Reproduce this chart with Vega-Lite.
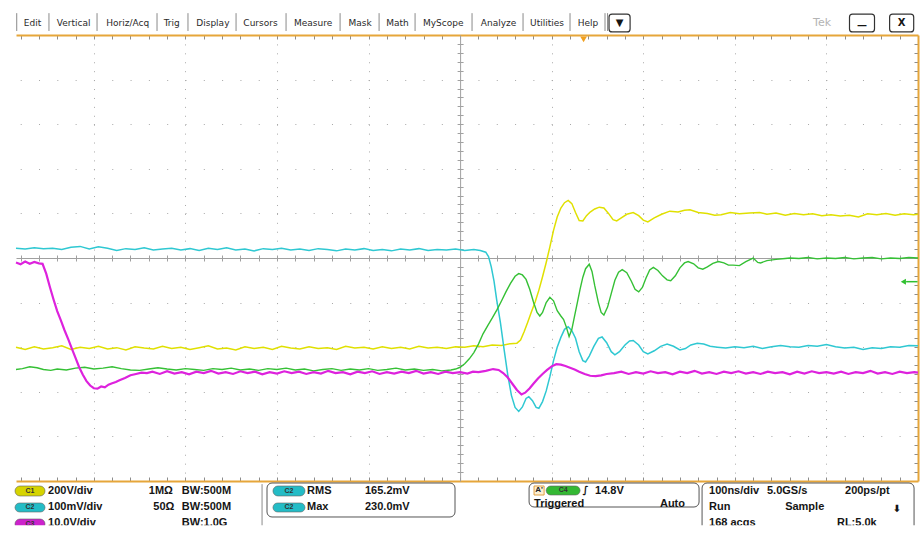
{
"$schema": "https://vega.github.io/schema/vega-lite/v6.json",
"width": 902, "height": 446,
"autosize": {"type": "none"},
"padding": {"left": 16, "top": 35, "right": 6, "bottom": 58},
"background": "white",
"config": {"view": {"stroke": null}},
"datasets": {
"c1": [{"t":-485,"v":-2.00},{"t":-475,"v":-2.05},{"t":-465,"v":-1.99},{"t":-455,"v":-2.04},{"t":-445,"v":-2.01},{"t":-435,"v":-1.97},{"t":-425,"v":-2.05},{"t":-415,"v":-2.00},{"t":-405,"v":-2.03},{"t":-395,"v":-1.98},{"t":-385,"v":-2.04},{"t":-375,"v":-2.01},{"t":-365,"v":-2.06},{"t":-355,"v":-1.99},{"t":-345,"v":-2.02},{"t":-335,"v":-2.04},{"t":-325,"v":-1.98},{"t":-315,"v":-2.03},{"t":-305,"v":-2.00},{"t":-295,"v":-2.05},{"t":-285,"v":-2.01},{"t":-275,"v":-1.97},{"t":-265,"v":-2.04},{"t":-255,"v":-2.02},{"t":-245,"v":-2.06},{"t":-235,"v":-1.99},{"t":-225,"v":-2.03},{"t":-215,"v":-2.00},{"t":-205,"v":-2.05},{"t":-195,"v":-1.98},{"t":-185,"v":-2.02},{"t":-175,"v":-2.04},{"t":-165,"v":-1.99},{"t":-155,"v":-2.03},{"t":-145,"v":-2.01},{"t":-135,"v":-2.05},{"t":-125,"v":-1.98},{"t":-115,"v":-2.02},{"t":-105,"v":-2.00},{"t":-95,"v":-2.04},{"t":-85,"v":-1.99},{"t":-75,"v":-2.03},{"t":-65,"v":-2.00},{"t":-55,"v":-2.04},{"t":-45,"v":-1.98},{"t":-35,"v":-2.02},{"t":-25,"v":-2.00},{"t":-15,"v":-2.03},{"t":-5,"v":-1.99},{"t":5,"v":-2.00},{"t":15,"v":-1.97},{"t":25,"v":-1.99},{"t":35,"v":-1.95},{"t":45,"v":-1.96},{"t":55,"v":-1.92},{"t":62,"v":-1.91},{"t":66,"v":-1.84},{"t":70,"v":-1.65},{"t":74,"v":-1.43},{"t":78,"v":-1.20},{"t":82,"v":-0.98},{"t":86,"v":-0.72},{"t":90,"v":-0.42},{"t":94,"v":-0.10},{"t":98,"v":0.25},{"t":102,"v":0.62},{"t":106,"v":0.92},{"t":110,"v":1.12},{"t":114,"v":1.24},{"t":118,"v":1.29},{"t":122,"v":1.22},{"t":126,"v":1.02},{"t":130,"v":0.84},{"t":134,"v":0.83},{"t":138,"v":0.95},{"t":142,"v":1.03},{"t":147,"v":1.10},{"t":152,"v":1.14},{"t":157,"v":1.12},{"t":162,"v":1.00},{"t":167,"v":0.86},{"t":171,"v":0.83},{"t":176,"v":0.90},{"t":182,"v":0.98},{"t":189,"v":1.02},{"t":195,"v":0.95},{"t":200,"v":0.85},{"t":205,"v":0.81},{"t":212,"v":0.90},{"t":220,"v":0.98},{"t":229,"v":1.05},{"t":238,"v":1.03},{"t":245,"v":1.07},{"t":251,"v":1.08},{"t":260,"v":1.02},{"t":270,"v":1.00},{"t":278,"v":0.96},{"t":285,"v":0.97},{"t":295,"v":1.02},{"t":305,"v":0.99},{"t":316,"v":1.01},{"t":327,"v":1.02},{"t":335,"v":0.98},{"t":345,"v":1.01},{"t":355,"v":0.96},{"t":365,"v":1.00},{"t":375,"v":0.97},{"t":385,"v":0.99},{"t":395,"v":0.95},{"t":405,"v":0.97},{"t":415,"v":0.94},{"t":425,"v":0.96},{"t":435,"v":0.92},{"t":445,"v":0.99},{"t":455,"v":0.97},{"t":465,"v":1.00},{"t":475,"v":0.96},{"t":485,"v":0.99},{"t":495,"v":0.97},{"t":500,"v":0.98}],
"c2": [{"t":-485,"v":0.22},{"t":-475,"v":0.20},{"t":-465,"v":0.23},{"t":-455,"v":0.21},{"t":-445,"v":0.22},{"t":-435,"v":0.19},{"t":-425,"v":0.24},{"t":-415,"v":0.26},{"t":-405,"v":0.20},{"t":-395,"v":0.25},{"t":-385,"v":0.22},{"t":-375,"v":0.17},{"t":-365,"v":0.21},{"t":-355,"v":0.19},{"t":-345,"v":0.23},{"t":-335,"v":0.18},{"t":-325,"v":0.20},{"t":-315,"v":0.22},{"t":-305,"v":0.18},{"t":-295,"v":0.21},{"t":-285,"v":0.17},{"t":-275,"v":0.22},{"t":-265,"v":0.19},{"t":-255,"v":0.23},{"t":-245,"v":0.18},{"t":-235,"v":0.20},{"t":-225,"v":0.16},{"t":-215,"v":0.21},{"t":-205,"v":0.19},{"t":-195,"v":0.22},{"t":-185,"v":0.18},{"t":-175,"v":0.20},{"t":-165,"v":0.17},{"t":-155,"v":0.21},{"t":-145,"v":0.19},{"t":-135,"v":0.16},{"t":-125,"v":0.20},{"t":-115,"v":0.18},{"t":-105,"v":0.21},{"t":-95,"v":0.17},{"t":-85,"v":0.19},{"t":-75,"v":0.16},{"t":-65,"v":0.20},{"t":-55,"v":0.18},{"t":-45,"v":0.21},{"t":-35,"v":0.17},{"t":-25,"v":0.19},{"t":-15,"v":0.18},{"t":-5,"v":0.20},{"t":5,"v":0.17},{"t":15,"v":0.19},{"t":22,"v":0.17},{"t":28,"v":0.13},{"t":31,"v":0.03},{"t":34,"v":-0.20},{"t":37,"v":-0.52},{"t":40,"v":-0.95},{"t":44,"v":-1.45},{"t":48,"v":-2.05},{"t":52,"v":-2.62},{"t":56,"v":-3.08},{"t":60,"v":-3.35},{"t":64,"v":-3.44},{"t":68,"v":-3.34},{"t":72,"v":-3.15},{"t":75,"v":-3.11},{"t":79,"v":-3.20},{"t":83,"v":-3.35},{"t":86,"v":-3.37},{"t":90,"v":-3.22},{"t":94,"v":-2.98},{"t":98,"v":-2.66},{"t":102,"v":-2.30},{"t":106,"v":-2.00},{"t":110,"v":-1.78},{"t":114,"v":-1.60},{"t":118,"v":-1.54},{"t":122,"v":-1.63},{"t":126,"v":-1.80},{"t":130,"v":-2.10},{"t":134,"v":-2.30},{"t":137,"v":-2.33},{"t":141,"v":-2.20},{"t":146,"v":-1.98},{"t":151,"v":-1.80},{"t":155,"v":-1.77},{"t":160,"v":-1.90},{"t":165,"v":-2.10},{"t":169,"v":-2.17},{"t":174,"v":-2.10},{"t":180,"v":-1.95},{"t":185,"v":-1.86},{"t":189,"v":-1.85},{"t":195,"v":-1.95},{"t":200,"v":-2.10},{"t":205,"v":-2.15},{"t":212,"v":-2.08},{"t":219,"v":-1.98},{"t":226,"v":-1.93},{"t":233,"v":-1.98},{"t":240,"v":-2.06},{"t":246,"v":-2.03},{"t":252,"v":-1.95},{"t":259,"v":-1.91},{"t":266,"v":-1.93},{"t":273,"v":-1.98},{"t":281,"v":-2.00},{"t":290,"v":-2.02},{"t":300,"v":-1.99},{"t":310,"v":-2.01},{"t":320,"v":-1.98},{"t":330,"v":-2.03},{"t":340,"v":-1.99},{"t":350,"v":-1.96},{"t":360,"v":-1.99},{"t":370,"v":-2.00},{"t":380,"v":-1.96},{"t":390,"v":-1.98},{"t":400,"v":-1.94},{"t":410,"v":-1.99},{"t":420,"v":-2.02},{"t":430,"v":-2.00},{"t":440,"v":-2.05},{"t":450,"v":-2.01},{"t":460,"v":-2.03},{"t":470,"v":-1.99},{"t":480,"v":-2.00},{"t":490,"v":-1.96},{"t":500,"v":-1.97}],
"c4": [{"t":-485,"v":-2.50},{"t":-478,"v":-2.48},{"t":-470,"v":-2.44},{"t":-462,"v":-2.46},{"t":-455,"v":-2.50},{"t":-447,"v":-2.52},{"t":-440,"v":-2.49},{"t":-430,"v":-2.51},{"t":-420,"v":-2.47},{"t":-410,"v":-2.45},{"t":-400,"v":-2.49},{"t":-390,"v":-2.47},{"t":-380,"v":-2.44},{"t":-370,"v":-2.48},{"t":-360,"v":-2.51},{"t":-350,"v":-2.52},{"t":-340,"v":-2.49},{"t":-330,"v":-2.46},{"t":-320,"v":-2.49},{"t":-310,"v":-2.51},{"t":-300,"v":-2.48},{"t":-290,"v":-2.50},{"t":-280,"v":-2.52},{"t":-270,"v":-2.48},{"t":-260,"v":-2.50},{"t":-250,"v":-2.47},{"t":-240,"v":-2.51},{"t":-230,"v":-2.49},{"t":-220,"v":-2.52},{"t":-210,"v":-2.48},{"t":-200,"v":-2.50},{"t":-190,"v":-2.47},{"t":-180,"v":-2.51},{"t":-170,"v":-2.49},{"t":-160,"v":-2.53},{"t":-150,"v":-2.50},{"t":-140,"v":-2.48},{"t":-130,"v":-2.52},{"t":-120,"v":-2.49},{"t":-110,"v":-2.51},{"t":-100,"v":-2.48},{"t":-90,"v":-2.52},{"t":-80,"v":-2.50},{"t":-70,"v":-2.47},{"t":-60,"v":-2.51},{"t":-50,"v":-2.49},{"t":-40,"v":-2.52},{"t":-30,"v":-2.50},{"t":-20,"v":-2.53},{"t":-10,"v":-2.51},{"t":-5,"v":-2.49},{"t":0,"v":-2.45},{"t":5,"v":-2.37},{"t":10,"v":-2.26},{"t":15,"v":-2.12},{"t":20,"v":-1.93},{"t":25,"v":-1.70},{"t":30,"v":-1.52},{"t":35,"v":-1.35},{"t":40,"v":-1.17},{"t":45,"v":-0.97},{"t":50,"v":-0.76},{"t":55,"v":-0.57},{"t":60,"v":-0.41},{"t":64,"v":-0.35},{"t":68,"v":-0.38},{"t":72,"v":-0.48},{"t":76,"v":-0.70},{"t":80,"v":-0.98},{"t":84,"v":-1.22},{"t":87,"v":-1.30},{"t":90,"v":-1.22},{"t":94,"v":-1.00},{"t":98,"v":-0.88},{"t":102,"v":-0.96},{"t":106,"v":-1.18},{"t":110,"v":-1.30},{"t":113,"v":-1.38},{"t":116,"v":-1.55},{"t":119,"v":-1.76},{"t":122,"v":-1.60},{"t":125,"v":-1.30},{"t":128,"v":-1.00},{"t":131,"v":-0.70},{"t":134,"v":-0.43},{"t":137,"v":-0.24},{"t":141,"v":-0.14},{"t":144,"v":-0.30},{"t":147,"v":-0.62},{"t":151,"v":-1.00},{"t":154,"v":-1.22},{"t":157,"v":-1.28},{"t":161,"v":-1.10},{"t":165,"v":-0.80},{"t":169,"v":-0.50},{"t":173,"v":-0.32},{"t":177,"v":-0.26},{"t":182,"v":-0.33},{"t":187,"v":-0.52},{"t":191,"v":-0.70},{"t":195,"v":-0.76},{"t":199,"v":-0.66},{"t":203,"v":-0.45},{"t":207,"v":-0.27},{"t":211,"v":-0.21},{"t":216,"v":-0.28},{"t":221,"v":-0.40},{"t":226,"v":-0.49},{"t":230,"v":-0.51},{"t":235,"v":-0.40},{"t":240,"v":-0.22},{"t":245,"v":-0.11},{"t":249,"v":-0.08},{"t":255,"v":-0.13},{"t":260,"v":-0.22},{"t":265,"v":-0.25},{"t":270,"v":-0.20},{"t":276,"v":-0.12},{"t":282,"v":-0.08},{"t":288,"v":-0.11},{"t":293,"v":-0.16},{"t":298,"v":-0.16},{"t":305,"v":-0.17},{"t":312,"v":-0.08},{"t":320,"v":0.00},{"t":325,"v":-0.10},{"t":328,"v":-0.11},{"t":335,"v":-0.06},{"t":345,"v":-0.03},{"t":355,"v":-0.01},{"t":360,"v":0.00},{"t":370,"v":-0.01},{"t":380,"v":0.01},{"t":390,"v":-0.02},{"t":400,"v":0.00},{"t":410,"v":-0.01},{"t":420,"v":0.01},{"t":430,"v":-0.02},{"t":440,"v":0.00},{"t":450,"v":0.01},{"t":460,"v":-0.02},{"t":470,"v":0.00},{"t":480,"v":-0.01},{"t":490,"v":0.01},{"t":500,"v":0.00}],
"c3": [{"t":-485,"v":-0.10},{"t":-480,"v":-0.14},{"t":-475,"v":-0.08},{"t":-470,"v":-0.13},{"t":-465,"v":-0.09},{"t":-460,"v":-0.12},{"t":-456,"v":-0.13},{"t":-452,"v":-0.35},{"t":-448,"v":-0.65},{"t":-444,"v":-0.93},{"t":-440,"v":-1.19},{"t":-436,"v":-1.40},{"t":-432,"v":-1.62},{"t":-428,"v":-1.82},{"t":-424,"v":-2.03},{"t":-420,"v":-2.24},{"t":-416,"v":-2.45},{"t":-412,"v":-2.62},{"t":-408,"v":-2.76},{"t":-404,"v":-2.86},{"t":-400,"v":-2.92},{"t":-396,"v":-2.93},{"t":-392,"v":-2.88},{"t":-388,"v":-2.90},{"t":-384,"v":-2.84},{"t":-380,"v":-2.81},{"t":-376,"v":-2.78},{"t":-372,"v":-2.74},{"t":-366,"v":-2.69},{"t":-360,"v":-2.63},{"t":-354,"v":-2.60},{"t":-348,"v":-2.57},{"t":-342,"v":-2.58},{"t":-336,"v":-2.55},{"t":-328,"v":-2.60},{"t":-320,"v":-2.54},{"t":-312,"v":-2.59},{"t":-304,"v":-2.56},{"t":-296,"v":-2.61},{"t":-288,"v":-2.55},{"t":-280,"v":-2.58},{"t":-272,"v":-2.53},{"t":-264,"v":-2.59},{"t":-256,"v":-2.56},{"t":-248,"v":-2.60},{"t":-240,"v":-2.54},{"t":-232,"v":-2.58},{"t":-224,"v":-2.55},{"t":-216,"v":-2.61},{"t":-208,"v":-2.56},{"t":-200,"v":-2.59},{"t":-192,"v":-2.54},{"t":-184,"v":-2.58},{"t":-176,"v":-2.55},{"t":-168,"v":-2.60},{"t":-160,"v":-2.56},{"t":-152,"v":-2.59},{"t":-144,"v":-2.53},{"t":-136,"v":-2.58},{"t":-128,"v":-2.56},{"t":-120,"v":-2.61},{"t":-112,"v":-2.55},{"t":-104,"v":-2.58},{"t":-96,"v":-2.54},{"t":-88,"v":-2.60},{"t":-80,"v":-2.56},{"t":-72,"v":-2.59},{"t":-64,"v":-2.55},{"t":-56,"v":-2.58},{"t":-48,"v":-2.53},{"t":-40,"v":-2.59},{"t":-32,"v":-2.56},{"t":-24,"v":-2.60},{"t":-16,"v":-2.55},{"t":-8,"v":-2.58},{"t":0,"v":-2.56},{"t":8,"v":-2.59},{"t":14,"v":-2.55},{"t":20,"v":-2.56},{"t":28,"v":-2.53},{"t":36,"v":-2.49},{"t":42,"v":-2.51},{"t":47,"v":-2.58},{"t":52,"v":-2.68},{"t":57,"v":-2.82},{"t":62,"v":-2.96},{"t":67,"v":-3.06},{"t":71,"v":-3.02},{"t":76,"v":-2.92},{"t":80,"v":-2.82},{"t":85,"v":-2.70},{"t":90,"v":-2.60},{"t":95,"v":-2.51},{"t":100,"v":-2.43},{"t":105,"v":-2.38},{"t":110,"v":-2.39},{"t":115,"v":-2.42},{"t":120,"v":-2.46},{"t":125,"v":-2.50},{"t":130,"v":-2.55},{"t":136,"v":-2.60},{"t":142,"v":-2.64},{"t":148,"v":-2.65},{"t":154,"v":-2.63},{"t":160,"v":-2.60},{"t":168,"v":-2.58},{"t":176,"v":-2.55},{"t":184,"v":-2.60},{"t":192,"v":-2.56},{"t":200,"v":-2.59},{"t":208,"v":-2.54},{"t":216,"v":-2.58},{"t":224,"v":-2.56},{"t":232,"v":-2.61},{"t":240,"v":-2.55},{"t":248,"v":-2.58},{"t":256,"v":-2.53},{"t":264,"v":-2.59},{"t":272,"v":-2.56},{"t":280,"v":-2.60},{"t":288,"v":-2.55},{"t":296,"v":-2.58},{"t":304,"v":-2.54},{"t":312,"v":-2.59},{"t":320,"v":-2.56},{"t":328,"v":-2.60},{"t":336,"v":-2.55},{"t":344,"v":-2.58},{"t":352,"v":-2.56},{"t":360,"v":-2.61},{"t":368,"v":-2.55},{"t":376,"v":-2.59},{"t":384,"v":-2.54},{"t":392,"v":-2.58},{"t":400,"v":-2.56},{"t":408,"v":-2.59},{"t":416,"v":-2.55},{"t":424,"v":-2.60},{"t":432,"v":-2.56},{"t":440,"v":-2.58},{"t":448,"v":-2.53},{"t":456,"v":-2.59},{"t":464,"v":-2.56},{"t":472,"v":-2.60},{"t":480,"v":-2.55},{"t":488,"v":-2.58},{"t":496,"v":-2.56},{"t":500,"v":-2.57}],
"menu": [{"t":-467,"v":5.26,"label":"Edit"},{"t":-422,"v":5.26,"label":"Vertical"},{"t":-363,"v":5.26,"label":"Horiz/Acq"},{"t":-315,"v":5.26,"label":"Trig"},{"t":-270,"v":5.26,"label":"Display"},{"t":-218,"v":5.26,"label":"Cursors"},{"t":-160.6,"v":5.26,"label":"Measure"},{"t":-109.3,"v":5.26,"label":"Mask"},{"t":-68.4,"v":5.26,"label":"Math"},{"t":-18.5,"v":5.26,"label":"MyScope"},{"t":41.9,"v":5.26,"label":"Analyze"},{"t":94.9,"v":5.26,"label":"Utilities"},{"t":139.7,"v":5.26,"label":"Help"}],
"uirules": [{"t":-484.2,"t2":-484.2,"v":5.49,"v2":5.09},{"t":-449,"t2":-449,"v":5.49,"v2":5.09},{"t":-396.5,"t2":-396.5,"v":5.49,"v2":5.09},{"t":-331,"t2":-331,"v":5.49,"v2":5.09},{"t":-297.2,"t2":-297.2,"v":5.49,"v2":5.09},{"t":-244.7,"t2":-244.7,"v":5.49,"v2":5.09},{"t":-190.1,"t2":-190.1,"v":5.49,"v2":5.09},{"t":-131.1,"t2":-131.1,"v":5.49,"v2":5.09},{"t":-88.5,"t2":-88.5,"v":5.49,"v2":5.09},{"t":-49.2,"t2":-49.2,"v":5.49,"v2":5.09},{"t":13,"t2":13,"v":5.49,"v2":5.09},{"t":68.7,"t2":68.7,"v":5.49,"v2":5.09},{"t":120,"t2":120,"v":5.49,"v2":5.09},{"t":158.2,"t2":158.2,"v":5.49,"v2":5.09},{"t":161,"t2":161,"v":5.49,"v2":5.09},{"t":-216.3,"t2":-216.3,"v":-5.07,"v2":-6.2}],
"uiboxes": [{"t":162.6,"t2":185.6,"v":5.47,"v2":5.07},{"t":425.2,"t2":452.5,"v":5.47,"v2":5.07},{"t":469,"t2":495.3,"v":5.47,"v2":5.07}],
"glyphs": [{"t":174.1,"v":5.27,"label":"▼"},{"t":438.9,"v":5.21,"label":"—"},{"t":482.2,"v":5.27,"label":"X"},{"t":137,"v":-5.21,"label":"∫"},{"t":477,"v":-5.62,"label":"⬇"}],
"tek": [{"t":395.2,"v":5.26,"label":"Tek"}],
"panels": [{"t":-210.9,"t2":-5.6,"v":-5.045,"v2":-5.807},{"t":75.3,"t2":260.9,"v":-5.045,"v2":-5.583},{"t":264.2,"t2":495.7,"v":-5.045,"v2":-6.2}],
"pills": [{"ch":"C1","t":-486.1,"t2":-453.3,"v":-5.112,"v2":-5.336,"lt":-469.7,"lv":-5.224,"label":"C1"},{"ch":"C2","t":-486.1,"t2":-453.3,"v":-5.493,"v2":-5.695,"lt":-469.7,"lv":-5.594,"label":"C2"},{"ch":"C3","t":-486.1,"t2":-453.3,"v":-5.852,"v2":-6.076,"lt":-469.7,"lv":-5.964,"label":"C3"},{"ch":"C2","t":-204.4,"t2":-169.4,"v":-5.112,"v2":-5.336,"lt":-186.9,"lv":-5.224,"label":"C2"},{"ch":"C2","t":-204.4,"t2":-169.4,"v":-5.493,"v2":-5.695,"lt":-186.9,"lv":-5.594,"label":"C2"},{"ch":"C4","t":93.9,"t2":131.0,"v":-5.112,"v2":-5.314,"lt":112.5,"lv":-5.213,"label":"C4"}],
"abox": [{"t":80.7,"t2":91.7,"v":-5.112,"v2":-5.314,"lt":86.2,"lv":-5.213,"label":"A'"}],
"info": [{"t":-450,"v":-5.217,"label":"200V/div"},{"t":-340,"v":-5.217,"label":"1MΩ"},{"t":-304,"v":-5.217,"label":"BW:500M"},{"t":-450,"v":-5.59,"label":"100mV/div"},{"t":-335,"v":-5.59,"label":"50Ω"},{"t":-304,"v":-5.59,"label":"BW:500M"},{"t":-450,"v":-5.942,"label":"10.0V/div"},{"t":-304,"v":-5.942,"label":"BW:1.0G"},{"t":-167.2,"v":-5.217,"label":"RMS"},{"t":-103.9,"v":-5.217,"label":"165.2mV"},{"t":-167.2,"v":-5.59,"label":"Max"},{"t":-103.9,"v":-5.59,"label":"230.0mV"},{"t":147.3,"v":-5.217,"label":"14.8V"},{"t":80.7,"v":-5.516,"label":"Triggered"},{"t":218.2,"v":-5.516,"label":"Auto"},{"t":271.8,"v":-5.217,"label":"100ns/div"},{"t":335.1,"v":-5.217,"label":"5.0GS/s"},{"t":420.3,"v":-5.217,"label":"200ps/pt"},{"t":271.8,"v":-5.59,"label":"Run"},{"t":354.9,"v":-5.59,"label":"Sample"},{"t":271.8,"v":-5.942,"label":"168 acqs"},{"t":411.5,"v":-5.942,"label":"RL:5.0k"}],
"cover": [{"t":-540,"t2":540,"v":-5.99,"v2":-6.6}],
"trigpos": [{"t":134.8,"v":4.9}],
"triglevel": [{"t":484,"v":-0.531}],
"triglevelline": [{"t":487,"t2":499.5,"v":-0.531}]
},
"layer": [
{"data":{"name":"c1"},"mark":{"type":"line","color":"#e0e000","strokeWidth":1.5},
 "encoding":{
  "x":{"field":"t","type":"quantitative","scale":{"domain":[-485,500],"nice":false,"zero":false},
   "axis":{"orient":"bottom","values":[-400,-300,-200,-100,100,200,300,400],"grid":true,"gridColor":"#a8a8a8","gridWidth":1,"gridDash":[1,7.92],"domain":false,"ticks":false,"labels":false,"title":null}},
  "y":{"field":"v","type":"quantitative","scale":{"domain":[-5,5],"nice":false,"zero":false},
   "axis":{"orient":"left","values":[-4,-3,-2,-1,1,2,3,4],"grid":true,"gridColor":"#a8a8a8","gridWidth":1,"gridDash":[1,17.31],"gridDashOffset":14.1,"domain":false,"ticks":false,"labels":false,"title":null}}}},
{"data":{"name":"c2"},"mark":{"type":"line","color":"#2fc8d2","strokeWidth":1.5},
 "encoding":{
  "x":{"field":"t","type":"quantitative","scale":{"domain":[-485,500],"nice":false,"zero":false},
   "axis":{"orient":"bottom","values":[-480,-460,-440,-420,-400,-380,-360,-340,-320,-300,-280,-260,-240,-220,-200,-180,-160,-140,-120,-100,-80,-60,-40,-20,0,20,40,60,80,100,120,140,160,180,200,220,240,260,280,300,320,340,360,380,400,420,440,460,480],"domain":true,"domainColor":"#e6a63a","domainWidth":2,"ticks":true,"tickColor":"#8c8c8c","tickSize":-4,"tickWidth":1,"labels":false,"grid":false,"title":null}},
  "y":{"field":"v","type":"quantitative","scale":{"domain":[-5,5],"nice":false,"zero":false},
   "axis":{"orient":"right","values":[-4.8,-4.6,-4.4,-4.2,-4,-3.8,-3.6,-3.4,-3.2,-3,-2.8,-2.6,-2.4,-2.2,-2,-1.8,-1.6,-1.4,-1.2,-1,-0.8,-0.6,-0.4,-0.2,0,0.2,0.4,0.6,0.8,1,1.2,1.4,1.6,1.8,2,2.2,2.4,2.6,2.8,3,3.2,3.4,3.6,3.8,4,4.2,4.4,4.6,4.8],"domain":true,"domainColor":"#e6a63a","domainWidth":2,"ticks":true,"tickColor":"#8c8c8c","tickSize":-4,"tickWidth":1,"labels":false,"grid":false,"title":null}}}},
{"data":{"name":"c4"},"mark":{"type":"line","color":"#35c035","strokeWidth":1.4},
 "encoding":{
  "x":{"field":"t","type":"quantitative","scale":{"domain":[-485,500],"nice":false,"zero":false},
   "axis":{"orient":"top","values":[-480,-460,-440,-420,-400,-380,-360,-340,-320,-300,-280,-260,-240,-220,-200,-180,-160,-140,-120,-100,-80,-60,-40,-20,0,20,40,60,80,100,120,140,160,180,200,220,240,260,280,300,320,340,360,380,400,420,440,460,480],"domain":true,"domainColor":"#e6a63a","domainWidth":2,"ticks":true,"tickColor":"#8c8c8c","tickSize":-4,"tickWidth":1,"labels":false,"grid":false,"title":null}},
  "y":{"field":"v","type":"quantitative","scale":{"domain":[-5,5],"nice":false,"zero":false},
   "axis":{"orient":"left","offset":-444.1,"values":[-4.8,-4.6,-4.4,-4.2,-4,-3.8,-3.6,-3.4,-3.2,-3,-2.8,-2.6,-2.4,-2.2,-2,-1.8,-1.6,-1.4,-1.2,-1,-0.8,-0.6,-0.4,-0.2,0.2,0.4,0.6,0.8,1,1.2,1.4,1.6,1.8,2,2.2,2.4,2.6,2.8,3,3.2,3.4,3.6,3.8,4,4.2,4.4,4.6,4.8],"domain":true,"domainColor":"#a0a0a0","domainWidth":1,"ticks":true,"tickColor":"#a0a0a0","tickSize":3,"tickWidth":1,"labels":false,"grid":false,"title":null}}}},
{"data":{"name":"c3"},"mark":{"type":"line","color":"#dd22dd","strokeWidth":2.2},
 "encoding":{
  "x":{"field":"t","type":"quantitative","scale":{"domain":[-485,500],"nice":false,"zero":false},
   "axis":{"orient":"bottom","offset":-223,"values":[-480,-460,-440,-420,-400,-380,-360,-340,-320,-300,-280,-260,-240,-220,-200,-180,-160,-140,-120,-100,-80,-60,-40,-20,20,40,60,80,100,120,140,160,180,200,220,240,260,280,300,320,340,360,380,400,420,440,460,480],"domain":true,"domainColor":"#a0a0a0","domainWidth":1,"ticks":true,"tickColor":"#a0a0a0","tickSize":3,"tickWidth":1,"labels":false,"grid":false,"title":null}},
  "y":{"field":"v","type":"quantitative","scale":{"domain":[-5,5],"nice":false,"zero":false},
   "axis":{"orient":"right","offset":-457.9,"values":[-4.8,-4.6,-4.4,-4.2,-4,-3.8,-3.6,-3.4,-3.2,-3,-2.8,-2.6,-2.4,-2.2,-2,-1.8,-1.6,-1.4,-1.2,-1,-0.8,-0.6,-0.4,-0.2,0.2,0.4,0.6,0.8,1,1.2,1.4,1.6,1.8,2,2.2,2.4,2.6,2.8,3,3.2,3.4,3.6,3.8,4,4.2,4.4,4.6,4.8],"domain":false,"ticks":true,"tickColor":"#a0a0a0","tickSize":3,"tickWidth":1,"labels":false,"grid":false,"title":null}}}},
{"data":{"name":"trigpos"},"mark":{"type":"point","shape":"triangle-down","filled":true,"color":"#f0a020","size":45,"opacity":1},
 "encoding":{
  "x":{"field":"t","type":"quantitative","scale":{"domain":[-485,500],"nice":false,"zero":false},
   "axis":{"orient":"top","offset":-223,"values":[-480,-460,-440,-420,-400,-380,-360,-340,-320,-300,-280,-260,-240,-220,-200,-180,-160,-140,-120,-100,-80,-60,-40,-20,20,40,60,80,100,120,140,160,180,200,220,240,260,280,300,320,340,360,380,400,420,440,460,480],"domain":false,"ticks":true,"tickColor":"#a0a0a0","tickSize":3,"tickWidth":1,"labels":false,"grid":false,"title":null}},
  "y":{"field":"v","type":"quantitative","scale":{"domain":[-5,5],"nice":false,"zero":false},"axis":null}}},
{"data":{"name":"triglevel"},"mark":{"type":"point","shape":"triangle-left","filled":true,"color":"#30c030","size":35,"opacity":1},
 "encoding":{
  "x":{"field":"t","type":"quantitative","scale":{"domain":[-485,500],"nice":false,"zero":false},"axis":null},
  "y":{"field":"v","type":"quantitative","scale":{"domain":[-5,5],"nice":false,"zero":false},"axis":null}}},
{"data":{"name":"triglevelline"},"mark":{"type":"rule","color":"#30c030","strokeWidth":1.5},
 "encoding":{
  "x":{"field":"t","type":"quantitative","scale":{"domain":[-485,500],"nice":false,"zero":false},"axis":null},
  "x2":{"field":"t2"},
  "y":{"field":"v","type":"quantitative","scale":{"domain":[-5,5],"nice":false,"zero":false},"axis":null}}},
{"data":{"name":"uirules"},"mark":{"type":"rule","color":"#8a8a8a","strokeWidth":1},
 "encoding":{
  "x":{"field":"t","type":"quantitative","scale":{"domain":[-485,500],"nice":false,"zero":false},"axis":null},
  "x2":{"field":"t2"},
  "y":{"field":"v","type":"quantitative","scale":{"domain":[-5,5],"nice":false,"zero":false},"axis":null},
  "y2":{"field":"v2"}}},
{"data":{"name":"uiboxes"},"mark":{"type":"rect","fill":"#ffffff","stroke":"#333333","strokeWidth":1.2,"cornerRadius":3},
 "encoding":{
  "x":{"field":"t","type":"quantitative","scale":{"domain":[-485,500],"nice":false,"zero":false},"axis":null},
  "x2":{"field":"t2"},
  "y":{"field":"v","type":"quantitative","scale":{"domain":[-5,5],"nice":false,"zero":false},"axis":null},
  "y2":{"field":"v2"}}},
{"data":{"name":"menu"},"mark":{"type":"text","font":"DejaVu Sans","fontSize":9,"color":"#2a2a2a","align":"center","baseline":"middle"},
 "encoding":{
  "x":{"field":"t","type":"quantitative","scale":{"domain":[-485,500],"nice":false,"zero":false},"axis":null},
  "y":{"field":"v","type":"quantitative","scale":{"domain":[-5,5],"nice":false,"zero":false},"axis":null},
  "text":{"field":"label"}}},
{"data":{"name":"tek"},"mark":{"type":"text","font":"DejaVu Sans","fontSize":11,"color":"#b4b4b4","align":"center","baseline":"middle"},
 "encoding":{
  "x":{"field":"t","type":"quantitative","scale":{"domain":[-485,500],"nice":false,"zero":false},"axis":null},
  "y":{"field":"v","type":"quantitative","scale":{"domain":[-5,5],"nice":false,"zero":false},"axis":null},
  "text":{"field":"label"}}},
{"data":{"name":"panels"},"mark":{"type":"rect","filled":false,"stroke":"#555555","strokeWidth":1,"cornerRadius":5},
 "encoding":{
  "x":{"field":"t","type":"quantitative","scale":{"domain":[-485,500],"nice":false,"zero":false},"axis":null},
  "x2":{"field":"t2"},
  "y":{"field":"v","type":"quantitative","scale":{"domain":[-5,5],"nice":false,"zero":false},"axis":null},
  "y2":{"field":"v2"}}},
{"data":{"name":"pills"},"mark":{"type":"rect","cornerRadius":5,"stroke":"#666666","strokeWidth":0.6},
 "encoding":{
  "x":{"field":"t","type":"quantitative","scale":{"domain":[-485,500],"nice":false,"zero":false},"axis":null},
  "x2":{"field":"t2"},
  "y":{"field":"v","type":"quantitative","scale":{"domain":[-5,5],"nice":false,"zero":false},"axis":null},
  "y2":{"field":"v2"},
  "color":{"field":"ch","type":"nominal","scale":{"domain":["C1","C2","C3","C4"],"range":["#d6d400","#24bcc6","#cc22cc","#34b834"]},"legend":null}}},
{"data":{"name":"pills"},"mark":{"type":"text","font":"Liberation Sans","fontSize":7,"fontWeight":"bold","color":"#333333","align":"center","baseline":"middle"},
 "encoding":{
  "x":{"field":"lt","type":"quantitative","scale":{"domain":[-485,500],"nice":false,"zero":false},"axis":null},
  "y":{"field":"lv","type":"quantitative","scale":{"domain":[-5,5],"nice":false,"zero":false},"axis":null},
  "text":{"field":"label"}}},
{"data":{"name":"abox"},"mark":{"type":"rect","fill":"#fbeed2","stroke":"#e0a040","strokeWidth":1},
 "encoding":{
  "x":{"field":"t","type":"quantitative","scale":{"domain":[-485,500],"nice":false,"zero":false},"axis":null},
  "x2":{"field":"t2"},
  "y":{"field":"v","type":"quantitative","scale":{"domain":[-5,5],"nice":false,"zero":false},"axis":null},
  "y2":{"field":"v2"}}},
{"data":{"name":"abox"},"mark":{"type":"text","font":"Liberation Sans","fontSize":8,"fontWeight":"bold","color":"#222222","align":"center","baseline":"middle"},
 "encoding":{
  "x":{"field":"lt","type":"quantitative","scale":{"domain":[-485,500],"nice":false,"zero":false},"axis":null},
  "y":{"field":"lv","type":"quantitative","scale":{"domain":[-5,5],"nice":false,"zero":false},"axis":null},
  "text":{"field":"label"}}},
{"data":{"name":"info"},"mark":{"type":"text","font":"Liberation Sans","fontSize":11,"fontWeight":"bold","color":"#151515","align":"left","baseline":"middle"},
 "encoding":{
  "x":{"field":"t","type":"quantitative","scale":{"domain":[-485,500],"nice":false,"zero":false},"axis":null},
  "y":{"field":"v","type":"quantitative","scale":{"domain":[-5,5],"nice":false,"zero":false},"axis":null},
  "text":{"field":"label"}}},
{"data":{"name":"glyphs"},"mark":{"type":"text","font":"DejaVu Sans","fontSize":10,"fontWeight":"bold","color":"#151515","align":"center","baseline":"middle"},
 "encoding":{
  "x":{"field":"t","type":"quantitative","scale":{"domain":[-485,500],"nice":false,"zero":false},"axis":null},
  "y":{"field":"v","type":"quantitative","scale":{"domain":[-5,5],"nice":false,"zero":false},"axis":null},
  "text":{"field":"label"}}},
{"data":{"name":"cover"},"mark":{"type":"rect","fill":"#ffffff","strokeWidth":0},
 "encoding":{
  "x":{"field":"t","type":"quantitative","scale":{"domain":[-485,500],"nice":false,"zero":false},"axis":null},
  "x2":{"field":"t2"},
  "y":{"field":"v","type":"quantitative","scale":{"domain":[-5,5],"nice":false,"zero":false},"axis":null},
  "y2":{"field":"v2"}}}
],
"resolve": {"axis": {"x": "independent", "y": "independent"}}
}
